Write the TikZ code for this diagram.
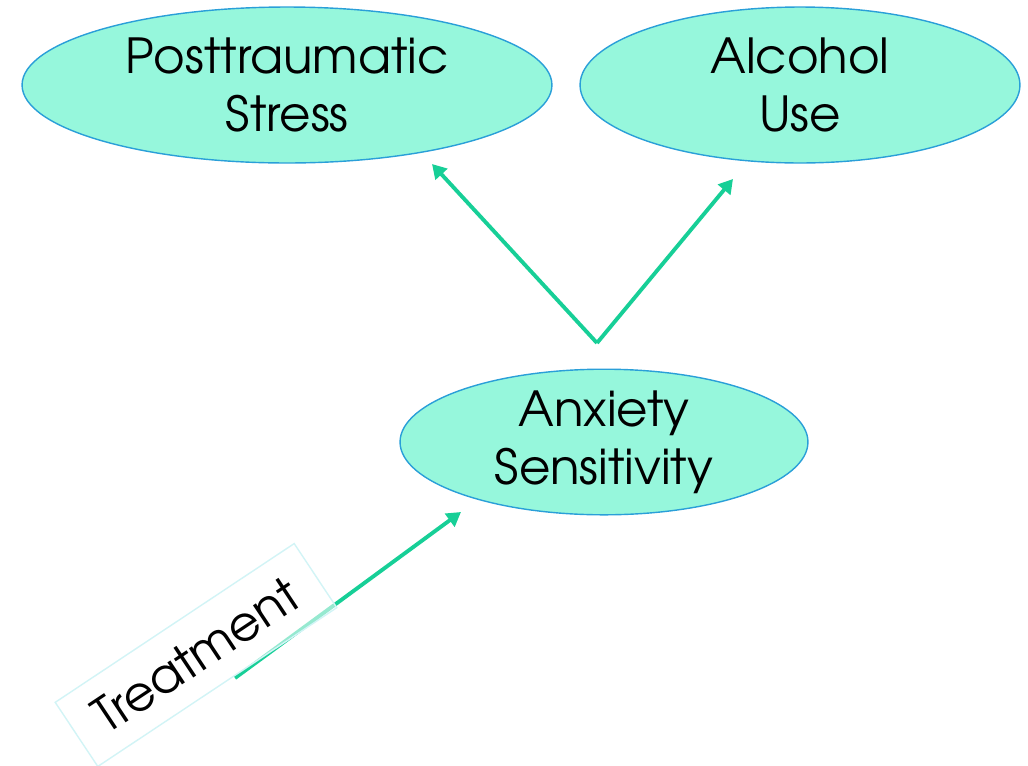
\documentclass[tikz,border=0pt]{standalone}
\usepackage{fontspec}
\setmainfont{TeX Gyre Adventor}
\usepackage{tikz}
\usetikzlibrary{arrows.meta, shapes.geometric, positioning}
\definecolor{aqua}{HTML}{96F7DC}
\definecolor{rim}{HTML}{2A9FD8}
\definecolor{mint}{HTML}{17CF97}
\definecolor{pale}{HTML}{D2F4F6}
\tikzset{
    x=0.02cm, y=-0.02cm, % one unit is one pixel of the reference
    >={Triangle[length=8pt, width=9pt]}, % filled triangle heads
    every node/.style={font=\fontsize{27.5}{33}\selectfont, align=center}, % text of every node
}
\begin{document}
\begin{tikzpicture}[
                                styleBlob/.style={ellipse, draw=rim, line width=0.8pt, fill=aqua, inner sep=0pt, minimum height=3.12cm},
                                styleLink/.style={->, draw=mint, line width=2.2pt},
                            ]
                            \useasboundingbox (0,0) rectangle (1028,765);
                            \node[styleBlob, minimum width=10.6cm] (pts) at (287,85) {Posttraumatic\\Stress};
                            \node[styleBlob, minimum width=8.8cm] (alc) at (800,85) {Alcohol\\Use};
                            \node[styleBlob, minimum width=8.16cm, minimum height=2.76cm] (as) at (604,442) {Anxiety\\Sensitivity};
                            \coordinate (fork) at (597,343);
                            \coordinate (ptsTip) at (432,164);
                            \coordinate (alcTip) at (733,179);
                            \coordinate (treatStart) at (235,678);
                            \coordinate (asTip) at (461,512);
                            \draw
                            (fork) edge[styleLink] (ptsTip)
                            (fork) edge[styleLink] (alcTip)
                            (treatStart) edge[styleLink] (asTip);
                            \node[draw=pale, line width=0.8pt, fill=white, fill opacity=0.55, text opacity=1, rotate=33.6, minimum width=5.74cm, minimum height=1.54cm] (treat) at (196,655) {Treatment};
                        \end{tikzpicture}
\end{document}
